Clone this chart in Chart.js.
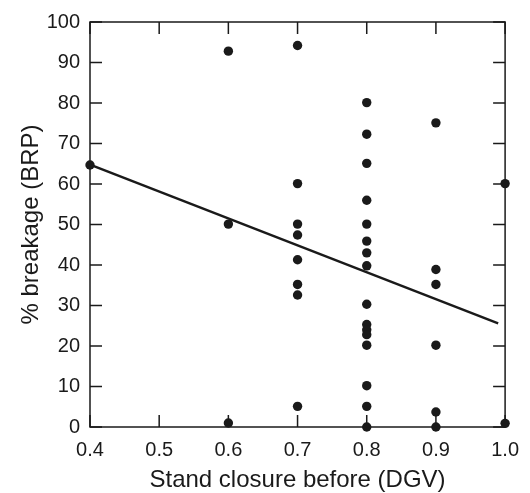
<!DOCTYPE html>
<html>
<head>
<meta charset="utf-8">
<script src="https://cdn.jsdelivr.net/npm/chart.js@4"></script>
<style>
  body { margin: 0; background: #fff; }
  #chart { display: block; }
</style>
</head>
<body>
<canvas id="chart" width="530" height="493"></canvas>
<script>
// stand closure (DGV) vs % breakage (BRP)
const closure = [
    0.4,
    0.6, 0.6, 0.6,
    0.7, 0.7, 0.7, 0.7, 0.7, 0.7, 0.7, 0.7,
    0.8, 0.8, 0.8, 0.8, 0.8, 0.8, 0.8, 0.8, 0.8, 0.8, 0.8, 0.8, 0.8, 0.8, 0.8, 0.8,
    0.9, 0.9, 0.9, 0.9, 0.9, 0.9,
    1.0, 1.0
];
const breakage = [
    64.7,
    92.8, 50.1, 1.0,
    94.2, 60.1, 50.1, 47.4, 41.3, 35.2, 32.6, 5.1,
    80.1, 72.3, 65.1, 56.0, 50.1, 45.9, 43.0, 39.8, 30.3, 25.3, 24.0, 22.8, 20.2, 10.2, 5.1, 0,
    75.1, 38.9, 35.2, 20.2, 3.7, 0,
    60.1, 0.9
];

// fitted regression line
const fitX = [0.4, 0.99];
const fitY = [64.8, 25.6];

const xTicks = [0.4, 0.5, 0.6, 0.7, 0.8, 0.9, 1.0];
const yTicks = [0, 10, 20, 30, 40, 50, 60, 70, 80, 90, 100];

const fontFamily = "'Liberation Sans', Arial, Helvetica, sans-serif";
const ink = "#1a1a1a";

// box frame + inward tick marks on all four sides
const frameTicks = {
    id: "frameTicks",
    beforeDatasetsDraw(chart) {
        const { ctx, chartArea: a, scales } = chart;
        const len = 12;
        ctx.save();
        ctx.strokeStyle = ink;
        ctx.lineWidth = 1.5;
        ctx.strokeRect(a.left, a.top, a.right - a.left, a.bottom - a.top);
        ctx.beginPath();
        xTicks.forEach((v) => {
            const px = scales.x.getPixelForValue(v);
            ctx.moveTo(px, a.bottom);
            ctx.lineTo(px, a.bottom - len);
            ctx.moveTo(px, a.top);
            ctx.lineTo(px, a.top + len);
        });
        yTicks.forEach((v) => {
            const py = scales.y.getPixelForValue(v);
            ctx.moveTo(a.left, py);
            ctx.lineTo(a.left + len, py);
            ctx.moveTo(a.right, py);
            ctx.lineTo(a.right - len, py);
        });
        ctx.stroke();
        ctx.restore();
    },
};

const points = closure.map((x, i) => ({ x: x, y: breakage[i] }));
const fitLine = fitX.map((x, i) => ({ x: x, y: fitY[i] }));

new Chart(document.getElementById("chart"), {
    type: "scatter",
    data: {
        datasets: [
            {
                label: "fit",
                type: "line",
                data: fitLine,
                borderColor: ink,
                borderWidth: 2.5,
                pointRadius: 0,
                fill: false,
                clip: false,
            },
            {
                label: "stands",
                data: points,
                backgroundColor: ink,
                borderColor: ink,
                borderWidth: 0,
                pointRadius: 4.7,
                clip: false,
            },
        ],
    },
    options: {
        responsive: false,
        animation: false,
        layout: { padding: { top: 17, right: 15, left: 0, bottom: 0 } },
        plugins: {
            legend: { display: false },
            tooltip: { enabled: false },
        },
        scales: {
            x: {
                type: "linear",
                min: 0.4,
                max: 1.0,
                afterFit: (scale) => { scale.height = 66; },
                afterBuildTicks: (scale) => { scale.ticks = xTicks.map((v) => ({ value: v })); },
                grid: { display: false, drawTicks: false },
                border: { display: false },
                ticks: {
                    padding: 11,
                    color: ink,
                    maxRotation: 0,
                    font: { family: fontFamily, size: 20 },
                    callback: (v) => Number(v).toFixed(1),
                },
                title: {
                    display: true,
                    text: "Stand closure before (DGV)",
                    color: ink,
                    font: { family: fontFamily, size: 24, lineHeight: 1 },
                    padding: { top: 0, bottom: 1 },
                },
            },
            y: {
                min: 0,
                max: 100,
                afterFit: (scale) => { scale.width = 90; },
                afterBuildTicks: (scale) => { scale.ticks = yTicks.map((v) => ({ value: v })); },
                grid: { display: false, drawTicks: false },
                border: { display: false },
                ticks: {
                    padding: 10,
                    color: ink,
                    font: { family: fontFamily, size: 20 },
                },
                title: {
                    display: true,
                    text: "% breakage (BRP)",
                    color: ink,
                    font: { family: fontFamily, size: 24, lineHeight: 1 },
                    padding: { top: 19, bottom: 0 },
                },
            },
        },
    },
    plugins: [frameTicks],
});
</script>
</body>
</html>
